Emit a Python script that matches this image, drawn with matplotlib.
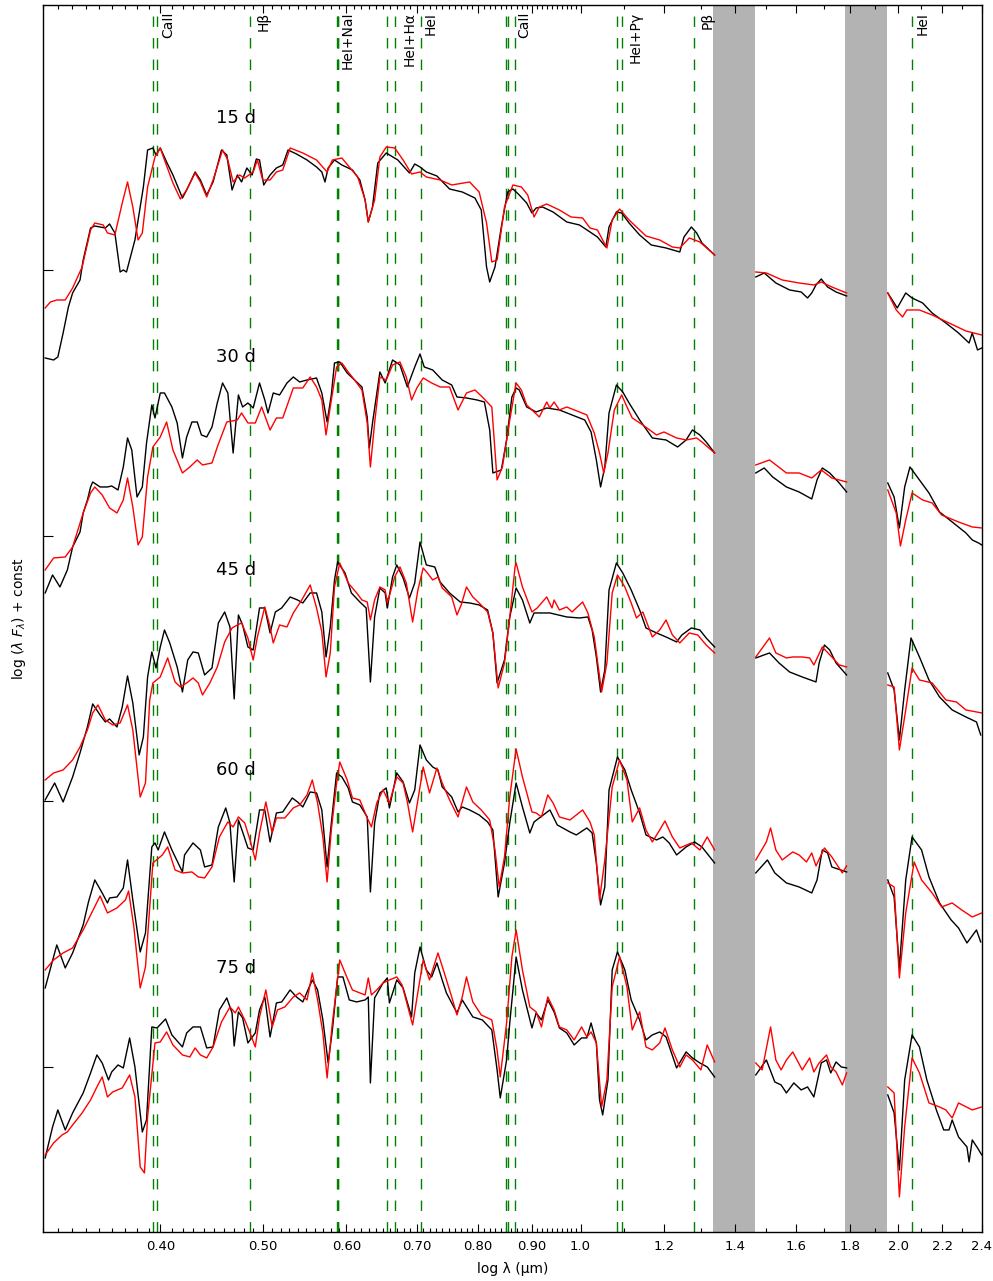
import numpy as np
import matplotlib
matplotlib.use("Agg")
import matplotlib.pyplot as plt
from matplotlib.ticker import FixedLocator, FixedFormatter, NullFormatter

# ---------------- data: log10(lambda / micron) and log(lambda F_lambda) + const ----------------
LOGLAM_15_OBS = [-0.507,-0.499,-0.495,-0.490,-0.485,-0.481,-0.474,-0.471,-0.464,-0.460,-0.450,-0.446,-0.441,-0.436,-0.433,-0.430,-0.422,-0.414,-0.410,-0.405,-0.402,-0.398,-0.392,-0.386,-0.377,-0.373,-0.365,-0.360,-0.354,-0.348,-0.340,-0.335,-0.330,-0.325,-0.321,-0.316,-0.311,-0.307,-0.304,-0.300,-0.294,-0.288,-0.282,-0.277,-0.269,-0.259,-0.250,-0.245,-0.242,-0.239,-0.233,-0.226,-0.216,-0.209,-0.204,-0.201,-0.197,-0.192,-0.184,-0.173,-0.162,-0.157,-0.152,-0.146,-0.136,-0.124,-0.112,-0.100,-0.094,-0.089,-0.086,-0.081,-0.075,-0.069,-0.064,-0.058,-0.051,-0.046,-0.042,-0.036,-0.026,-0.013,-0.001,0.009,0.016,0.024,0.027,0.034,0.039,0.046,0.056,0.067,0.081,0.094,0.098,0.105,0.110,0.115,0.127,0.166,0.174,0.185,0.198,0.209,0.215,0.219,0.223,0.228,0.234,0.242,0.252,0.291,0.300,0.308,0.314,0.324,0.333,0.346,0.358,0.368,0.371,0.376,0.380]
FLUX_15_OBS = [8.74,8.72,8.75,8.99,9.25,9.39,9.52,9.72,10.04,10.06,10.04,10.08,9.99,9.60,9.62,9.60,9.92,10.45,10.82,10.84,10.77,10.84,10.70,10.57,10.34,10.42,10.60,10.52,10.37,10.50,10.82,10.77,10.42,10.57,10.50,10.64,10.57,10.73,10.72,10.47,10.57,10.64,10.67,10.82,10.78,10.72,10.65,10.60,10.50,10.64,10.72,10.67,10.62,10.52,10.32,10.10,10.25,10.69,10.79,10.72,10.59,10.68,10.65,10.60,10.56,10.43,10.40,10.34,10.22,9.65,9.50,9.65,10.05,10.40,10.43,10.37,10.29,10.19,10.24,10.25,10.20,10.10,10.07,10.00,9.95,9.85,10.05,10.20,10.19,10.09,9.97,9.87,9.84,9.80,9.95,10.05,9.99,9.89,9.77,9.55,9.59,9.49,9.42,9.40,9.34,9.39,9.47,9.53,9.45,9.40,9.36,9.39,9.24,9.39,9.34,9.29,9.19,9.09,8.99,8.89,8.99,8.82,8.84]

LOGLAM_15_MOD = [-0.507,-0.502,-0.496,-0.488,-0.481,-0.472,-0.464,-0.460,-0.452,-0.448,-0.441,-0.434,-0.429,-0.424,-0.419,-0.415,-0.410,-0.403,-0.398,-0.394,-0.386,-0.379,-0.373,-0.365,-0.360,-0.354,-0.348,-0.339,-0.334,-0.329,-0.323,-0.318,-0.310,-0.306,-0.301,-0.294,-0.288,-0.282,-0.275,-0.263,-0.250,-0.240,-0.235,-0.226,-0.219,-0.211,-0.204,-0.201,-0.195,-0.190,-0.184,-0.176,-0.168,-0.160,-0.152,-0.146,-0.133,-0.122,-0.105,-0.096,-0.089,-0.084,-0.079,-0.072,-0.064,-0.056,-0.050,-0.044,-0.039,-0.032,-0.020,-0.009,0.002,0.009,0.016,0.025,0.030,0.037,0.046,0.062,0.075,0.087,0.094,0.103,0.113,0.127,0.166,0.176,0.191,0.207,0.221,0.228,0.238,0.252,0.291,0.299,0.305,0.309,0.321,0.333,0.349,0.365,0.380]
FLUX_15_MOD = [9.24,9.30,9.32,9.32,9.44,9.65,10.02,10.09,10.07,9.99,9.97,10.29,10.50,10.25,9.92,9.99,10.45,10.75,10.84,10.72,10.49,10.33,10.42,10.59,10.50,10.35,10.52,10.82,10.72,10.50,10.57,10.54,10.60,10.72,10.52,10.52,10.60,10.62,10.84,10.79,10.72,10.60,10.72,10.74,10.65,10.55,10.32,10.10,10.32,10.75,10.85,10.84,10.72,10.58,10.60,10.55,10.52,10.47,10.50,10.40,10.09,9.70,9.72,10.25,10.47,10.45,10.37,10.15,10.25,10.28,10.22,10.15,10.14,10.04,10.02,9.84,10.12,10.23,10.12,9.96,9.92,9.85,9.84,9.94,9.90,9.77,9.60,9.59,9.52,9.49,9.47,9.50,9.45,9.39,9.39,9.22,9.15,9.22,9.22,9.17,9.09,9.01,8.97]

LOGLAM_30_OBS = [-0.507,-0.500,-0.493,-0.486,-0.481,-0.474,-0.471,-0.467,-0.464,-0.462,-0.455,-0.448,-0.444,-0.438,-0.433,-0.429,-0.425,-0.420,-0.415,-0.411,-0.406,-0.403,-0.398,-0.394,-0.387,-0.382,-0.377,-0.373,-0.368,-0.363,-0.359,-0.354,-0.349,-0.344,-0.339,-0.334,-0.329,-0.324,-0.320,-0.315,-0.310,-0.304,-0.299,-0.296,-0.291,-0.285,-0.278,-0.272,-0.266,-0.259,-0.250,-0.245,-0.240,-0.236,-0.233,-0.228,-0.221,-0.216,-0.207,-0.202,-0.200,-0.197,-0.190,-0.185,-0.178,-0.171,-0.164,-0.157,-0.152,-0.148,-0.140,-0.131,-0.122,-0.117,-0.108,-0.098,-0.091,-0.086,-0.083,-0.075,-0.070,-0.065,-0.061,-0.058,-0.051,-0.042,-0.032,-0.020,-0.008,0.004,0.010,0.015,0.019,0.023,0.027,0.034,0.040,0.046,0.056,0.068,0.081,0.092,0.100,0.106,0.113,0.119,0.127,0.166,0.174,0.182,0.195,0.207,0.219,0.224,0.229,0.236,0.245,0.252,0.291,0.297,0.302,0.307,0.312,0.321,0.330,0.340,0.352,0.365,0.371,0.377,0.380]
FLUX_30_OBS = [6.39,6.57,6.45,6.62,6.85,7.00,7.19,7.32,7.45,7.50,7.45,7.45,7.46,7.42,7.65,7.94,7.82,7.35,7.45,7.89,8.27,8.14,8.39,8.39,8.25,8.09,7.74,7.95,8.10,8.10,7.97,7.95,8.05,8.29,8.49,8.39,7.79,8.37,8.25,8.29,8.24,8.49,8.32,8.19,8.39,8.37,8.49,8.55,8.50,8.52,8.54,8.39,8.10,8.37,8.69,8.70,8.59,8.54,8.45,8.15,7.84,8.09,8.60,8.49,8.72,8.67,8.45,8.65,8.78,8.65,8.62,8.52,8.47,8.35,8.34,8.32,8.30,8.02,7.59,7.62,7.92,8.35,8.44,8.42,8.25,8.20,8.24,8.22,8.17,8.12,8.00,7.72,7.45,7.65,8.19,8.47,8.40,8.29,8.12,7.94,7.92,7.85,7.92,8.02,7.97,7.90,7.79,7.59,7.64,7.55,7.45,7.40,7.33,7.52,7.64,7.59,7.49,7.40,7.49,7.35,7.04,7.45,7.65,7.52,7.39,7.20,7.10,6.99,6.92,6.89,6.87]

LOGLAM_30_MOD = [-0.507,-0.499,-0.488,-0.481,-0.471,-0.464,-0.460,-0.453,-0.446,-0.439,-0.433,-0.429,-0.424,-0.419,-0.415,-0.410,-0.405,-0.398,-0.392,-0.386,-0.377,-0.370,-0.363,-0.358,-0.349,-0.344,-0.335,-0.325,-0.321,-0.315,-0.308,-0.302,-0.294,-0.288,-0.282,-0.272,-0.263,-0.256,-0.250,-0.245,-0.241,-0.237,-0.231,-0.226,-0.220,-0.214,-0.207,-0.202,-0.199,-0.195,-0.190,-0.184,-0.178,-0.171,-0.165,-0.160,-0.155,-0.149,-0.141,-0.133,-0.124,-0.116,-0.108,-0.100,-0.093,-0.084,-0.079,-0.074,-0.067,-0.061,-0.056,-0.051,-0.039,-0.032,-0.029,-0.025,-0.020,-0.013,-0.001,0.006,0.013,0.018,0.022,0.026,0.032,0.039,0.044,0.049,0.059,0.072,0.079,0.091,0.100,0.110,0.115,0.127,0.166,0.179,0.195,0.207,0.219,0.228,0.238,0.252,0.291,0.299,0.303,0.308,0.314,0.324,0.333,0.342,0.358,0.371,0.380]
FLUX_30_MOD = [6.62,6.74,6.75,6.85,7.19,7.39,7.45,7.37,7.24,7.19,7.32,7.54,7.25,6.87,6.95,7.55,7.85,7.95,8.10,7.82,7.59,7.65,7.72,7.67,7.69,7.85,8.10,8.12,8.19,8.09,8.09,8.25,8.02,8.14,8.14,8.44,8.44,8.55,8.45,8.32,7.97,8.25,8.65,8.69,8.60,8.52,8.42,8.09,7.65,8.09,8.55,8.52,8.67,8.70,8.55,8.32,8.44,8.54,8.49,8.45,8.45,8.22,8.39,8.42,8.35,8.25,7.52,7.65,8.12,8.49,8.42,8.27,8.15,8.30,8.24,8.30,8.22,8.25,8.20,8.17,7.99,7.79,7.59,7.79,8.22,8.37,8.25,8.14,8.07,7.97,8.00,7.94,7.92,7.94,7.90,7.79,7.67,7.72,7.59,7.59,7.54,7.62,7.54,7.50,7.42,7.19,6.86,7.12,7.39,7.32,7.29,7.17,7.10,7.05,7.04]

LOGLAM_45_OBS = [-0.507,-0.498,-0.490,-0.481,-0.474,-0.467,-0.462,-0.455,-0.450,-0.446,-0.439,-0.434,-0.429,-0.424,-0.418,-0.414,-0.410,-0.406,-0.402,-0.398,-0.394,-0.389,-0.382,-0.377,-0.372,-0.367,-0.362,-0.356,-0.349,-0.343,-0.337,-0.332,-0.328,-0.324,-0.320,-0.315,-0.310,-0.304,-0.299,-0.294,-0.289,-0.283,-0.275,-0.268,-0.263,-0.256,-0.250,-0.245,-0.241,-0.237,-0.233,-0.230,-0.223,-0.217,-0.209,-0.203,-0.199,-0.195,-0.190,-0.185,-0.183,-0.178,-0.174,-0.168,-0.162,-0.157,-0.152,-0.146,-0.138,-0.133,-0.124,-0.114,-0.105,-0.096,-0.088,-0.083,-0.079,-0.072,-0.067,-0.061,-0.055,-0.048,-0.044,-0.029,-0.013,-0.001,0.007,0.011,0.015,0.019,0.023,0.027,0.034,0.040,0.048,0.056,0.062,0.072,0.081,0.091,0.096,0.105,0.113,0.119,0.127,0.166,0.179,0.188,0.198,0.210,0.223,0.226,0.231,0.236,0.242,0.252,0.291,0.297,0.302,0.307,0.313,0.321,0.330,0.340,0.352,0.365,0.375,0.379]
FLUX_45_OBS = [4.32,4.49,4.30,4.55,4.79,5.05,5.28,5.17,5.10,5.13,5.05,5.25,5.56,5.29,4.77,4.95,5.55,5.80,5.64,5.85,6.02,5.89,5.65,5.40,5.72,5.80,5.79,5.57,5.64,6.09,6.20,6.05,5.33,6.17,6.07,5.85,5.82,6.24,6.24,5.99,6.20,6.24,6.35,6.32,6.29,6.39,6.39,6.20,5.75,6.05,6.52,6.70,6.59,6.39,6.30,6.24,5.50,6.15,6.44,6.39,6.24,6.55,6.67,6.54,6.34,6.49,6.90,6.67,6.65,6.50,6.39,6.30,6.29,6.27,6.22,5.99,5.49,5.72,6.15,6.44,6.32,6.09,6.19,6.19,6.15,6.14,6.15,6.02,5.75,5.40,5.62,6.42,6.69,6.59,6.42,6.22,6.04,5.99,5.95,5.90,5.97,6.04,6.02,5.94,5.85,5.74,5.79,5.69,5.60,5.55,5.50,5.69,5.87,5.82,5.69,5.57,5.59,5.42,4.92,5.42,5.94,5.75,5.52,5.35,5.22,5.15,5.10,4.97]

LOGLAM_45_MOD = [-0.507,-0.499,-0.490,-0.481,-0.474,-0.467,-0.462,-0.457,-0.450,-0.443,-0.436,-0.429,-0.424,-0.417,-0.412,-0.408,-0.405,-0.398,-0.391,-0.384,-0.379,-0.373,-0.367,-0.362,-0.358,-0.351,-0.344,-0.337,-0.330,-0.325,-0.321,-0.315,-0.310,-0.306,-0.299,-0.294,-0.291,-0.285,-0.278,-0.272,-0.264,-0.256,-0.250,-0.245,-0.241,-0.237,-0.233,-0.228,-0.220,-0.212,-0.207,-0.202,-0.199,-0.195,-0.190,-0.185,-0.183,-0.176,-0.171,-0.165,-0.159,-0.154,-0.149,-0.145,-0.140,-0.135,-0.131,-0.122,-0.117,-0.113,-0.108,-0.102,-0.096,-0.088,-0.083,-0.078,-0.072,-0.067,-0.062,-0.061,-0.055,-0.046,-0.041,-0.032,-0.027,-0.025,-0.020,-0.013,-0.008,0.002,0.007,0.013,0.020,0.025,0.030,0.035,0.042,0.048,0.053,0.059,0.068,0.075,0.081,0.087,0.094,0.103,0.111,0.119,0.127,0.166,0.179,0.185,0.195,0.201,0.210,0.217,0.221,0.229,0.238,0.245,0.252,0.291,0.297,0.302,0.308,0.314,0.321,0.333,0.346,0.356,0.365,0.380]
FLUX_45_MOD = [4.52,4.59,4.62,4.72,4.85,5.02,5.19,5.27,5.12,5.07,5.09,5.27,5.02,4.35,4.49,5.32,5.49,5.55,5.74,5.50,5.45,5.49,5.54,5.49,5.37,5.49,5.65,5.90,6.04,6.07,6.09,5.94,5.72,5.95,6.25,6.05,5.89,6.07,6.05,6.19,6.32,6.47,6.24,6.00,5.55,5.79,6.45,6.69,6.49,6.39,6.32,6.30,6.12,6.32,6.45,6.42,6.29,6.55,6.65,6.49,6.10,6.42,6.64,6.59,6.52,6.55,6.44,6.35,6.17,6.27,6.45,6.35,6.29,6.20,5.99,5.44,5.69,6.15,6.65,6.69,6.45,6.20,6.24,6.35,6.24,6.32,6.22,6.25,6.20,6.30,6.19,5.95,5.40,5.69,6.39,6.57,6.45,6.29,6.14,6.20,5.95,6.02,6.12,5.97,5.89,5.99,5.97,5.87,5.79,5.75,5.94,5.79,5.74,5.75,5.75,5.74,5.67,5.85,5.75,5.67,5.65,5.47,5.45,4.82,5.22,5.64,5.52,5.49,5.32,5.30,5.22,5.19]

LOGLAM_60_OBS = [-0.507,-0.496,-0.488,-0.481,-0.471,-0.466,-0.460,-0.453,-0.448,-0.446,-0.439,-0.433,-0.429,-0.424,-0.417,-0.412,-0.406,-0.403,-0.400,-0.394,-0.387,-0.377,-0.375,-0.367,-0.360,-0.356,-0.349,-0.343,-0.336,-0.332,-0.328,-0.324,-0.320,-0.315,-0.310,-0.304,-0.299,-0.294,-0.288,-0.282,-0.273,-0.268,-0.263,-0.256,-0.250,-0.245,-0.240,-0.236,-0.231,-0.226,-0.220,-0.216,-0.209,-0.202,-0.199,-0.195,-0.190,-0.184,-0.181,-0.174,-0.168,-0.162,-0.157,-0.152,-0.146,-0.140,-0.135,-0.131,-0.122,-0.116,-0.112,-0.105,-0.096,-0.088,-0.083,-0.078,-0.072,-0.067,-0.061,-0.055,-0.048,-0.044,-0.029,-0.022,-0.010,-0.004,0.006,0.011,0.015,0.019,0.023,0.027,0.035,0.042,0.048,0.056,0.062,0.072,0.078,0.084,0.091,0.100,0.108,0.115,0.127,0.166,0.177,0.184,0.195,0.207,0.219,0.224,0.229,0.234,0.238,0.252,0.291,0.297,0.302,0.308,0.314,0.323,0.330,0.340,0.351,0.358,0.366,0.375,0.379]
FLUX_60_OBS = [2.44,2.87,2.64,2.79,3.07,3.30,3.52,3.39,3.29,3.34,3.35,3.44,3.72,3.32,2.80,2.99,3.85,3.89,3.82,4.00,3.82,3.60,3.77,3.89,3.82,3.65,3.67,4.05,4.24,4.09,3.50,4.12,4.00,3.84,3.82,4.22,4.22,3.90,4.19,4.20,4.34,4.30,4.25,4.40,4.39,4.22,3.65,4.09,4.59,4.55,4.44,4.30,4.27,4.15,3.40,4.09,4.39,4.44,4.24,4.59,4.50,4.29,4.42,4.87,4.72,4.65,4.62,4.45,4.35,4.20,4.25,4.22,4.17,4.10,4.02,3.35,3.69,4.09,4.49,4.25,3.99,4.10,4.22,4.07,4.00,3.97,4.04,3.99,3.69,3.27,3.45,4.42,4.75,4.62,4.42,4.19,3.97,3.92,3.95,3.89,3.77,3.85,3.90,3.85,3.69,3.59,3.72,3.59,3.49,3.45,3.39,3.52,3.82,3.79,3.65,3.60,3.52,3.35,2.64,3.52,3.95,3.82,3.55,3.29,3.12,3.04,2.89,3.02,2.90]

LOGLAM_60_MOD = [-0.507,-0.499,-0.490,-0.481,-0.471,-0.463,-0.455,-0.448,-0.439,-0.431,-0.428,-0.423,-0.417,-0.412,-0.405,-0.396,-0.391,-0.384,-0.377,-0.368,-0.362,-0.356,-0.349,-0.342,-0.334,-0.329,-0.324,-0.318,-0.313,-0.308,-0.304,-0.298,-0.292,-0.288,-0.280,-0.272,-0.266,-0.259,-0.254,-0.249,-0.244,-0.240,-0.236,-0.231,-0.228,-0.221,-0.216,-0.209,-0.202,-0.198,-0.193,-0.187,-0.181,-0.174,-0.168,-0.164,-0.159,-0.154,-0.149,-0.143,-0.136,-0.131,-0.124,-0.116,-0.108,-0.102,-0.094,-0.086,-0.081,-0.077,-0.072,-0.067,-0.061,-0.055,-0.046,-0.042,-0.037,-0.031,-0.026,-0.020,-0.010,0.002,0.009,0.013,0.018,0.023,0.030,0.037,0.044,0.049,0.056,0.062,0.068,0.075,0.080,0.087,0.094,0.105,0.113,0.120,0.127,0.166,0.176,0.180,0.185,0.191,0.201,0.207,0.214,0.219,0.223,0.231,0.238,0.248,0.252,0.291,0.297,0.302,0.308,0.316,0.323,0.333,0.342,0.352,0.361,0.371,0.380]
FLUX_60_MOD = [2.62,2.72,2.79,2.84,3.02,3.19,3.36,3.19,3.24,3.32,3.41,3.05,2.44,2.65,3.69,3.77,3.85,3.62,3.59,3.60,3.55,3.54,3.65,3.95,4.10,4.05,4.15,4.09,3.92,3.72,3.99,4.30,3.99,4.14,4.14,4.24,4.27,4.37,4.52,4.29,3.95,3.50,4.02,4.49,4.70,4.52,4.34,4.32,4.14,4.05,4.29,4.42,4.29,4.55,4.49,4.30,4.00,4.32,4.65,4.39,4.64,4.49,4.32,4.15,4.45,4.30,4.22,4.12,3.82,3.45,3.75,4.35,4.83,4.55,4.20,4.19,4.15,4.37,4.29,4.15,4.12,4.22,4.10,3.97,3.32,3.72,4.45,4.72,4.52,4.10,4.24,4.02,3.90,4.02,4.11,3.95,3.84,3.89,3.82,3.95,3.82,3.72,3.90,4.04,3.82,3.72,3.80,3.77,3.70,3.79,3.66,3.84,3.75,3.59,3.66,3.49,3.45,2.54,3.19,3.70,3.52,3.39,3.25,3.29,3.22,3.15,3.19]

LOGLAM_75_OBS = [-0.507,-0.500,-0.495,-0.488,-0.481,-0.471,-0.464,-0.458,-0.453,-0.447,-0.444,-0.438,-0.433,-0.427,-0.422,-0.415,-0.411,-0.406,-0.401,-0.393,-0.387,-0.377,-0.373,-0.367,-0.360,-0.354,-0.348,-0.342,-0.335,-0.330,-0.328,-0.324,-0.320,-0.315,-0.308,-0.304,-0.299,-0.294,-0.288,-0.283,-0.275,-0.269,-0.263,-0.254,-0.249,-0.244,-0.239,-0.235,-0.230,-0.225,-0.219,-0.212,-0.204,-0.201,-0.199,-0.195,-0.187,-0.183,-0.181,-0.174,-0.168,-0.160,-0.157,-0.152,-0.146,-0.141,-0.136,-0.131,-0.127,-0.117,-0.112,-0.102,-0.093,-0.084,-0.079,-0.076,-0.070,-0.067,-0.061,-0.055,-0.046,-0.042,-0.037,-0.031,-0.025,-0.020,-0.013,-0.006,0.001,0.006,0.010,0.015,0.018,0.021,0.026,0.030,0.035,0.042,0.048,0.056,0.062,0.068,0.075,0.081,0.091,0.100,0.106,0.113,0.120,0.127,0.166,0.176,0.184,0.190,0.195,0.202,0.209,0.215,0.221,0.228,0.233,0.237,0.242,0.247,0.252,0.291,0.297,0.302,0.307,0.314,0.321,0.328,0.337,0.344,0.349,0.352,0.358,0.366,0.368,0.371,0.376,0.380]
FLUX_75_OBS = [0.74,1.05,1.22,1.02,1.19,1.39,1.59,1.77,1.69,1.52,1.60,1.67,1.64,1.94,1.65,1.00,1.12,2.05,2.04,2.13,1.97,1.85,1.99,2.05,2.05,1.84,1.85,2.22,2.34,2.19,1.86,2.20,2.14,1.89,1.99,2.22,2.35,1.95,2.29,2.30,2.42,2.35,2.30,2.52,2.42,2.12,1.69,2.02,2.55,2.55,2.32,2.30,2.32,2.35,1.49,2.34,2.49,2.54,2.29,2.52,2.44,2.15,2.59,2.85,2.62,2.55,2.69,2.52,2.39,2.19,2.32,2.15,2.12,2.02,1.62,1.34,1.72,2.09,2.75,2.42,2.04,2.19,2.12,2.32,2.20,2.04,1.99,1.87,1.94,1.94,2.09,1.89,1.32,1.17,1.52,2.62,2.80,2.62,2.32,2.12,1.92,1.97,2.00,1.95,1.64,1.80,1.74,1.69,1.65,1.55,1.57,1.72,1.50,1.47,1.39,1.49,1.42,1.45,1.35,1.69,1.72,1.59,1.70,1.65,1.64,1.37,1.19,0.62,1.52,1.97,1.85,1.52,1.22,1.02,1.02,1.12,0.95,0.85,0.70,0.92,0.84,0.77]

LOGLAM_75_MOD = [-0.507,-0.499,-0.491,-0.486,-0.481,-0.472,-0.464,-0.458,-0.453,-0.448,-0.443,-0.434,-0.427,-0.422,-0.417,-0.413,-0.410,-0.403,-0.398,-0.392,-0.386,-0.377,-0.370,-0.365,-0.360,-0.354,-0.348,-0.340,-0.332,-0.327,-0.324,-0.318,-0.313,-0.308,-0.304,-0.298,-0.292,-0.287,-0.280,-0.272,-0.266,-0.259,-0.254,-0.249,-0.244,-0.240,-0.235,-0.228,-0.221,-0.216,-0.209,-0.204,-0.201,-0.198,-0.193,-0.187,-0.181,-0.174,-0.169,-0.164,-0.159,-0.154,-0.149,-0.143,-0.135,-0.129,-0.122,-0.117,-0.112,-0.108,-0.102,-0.094,-0.084,-0.079,-0.076,-0.070,-0.065,-0.061,-0.055,-0.048,-0.042,-0.037,-0.031,-0.025,-0.020,-0.013,-0.006,0.001,0.006,0.010,0.015,0.020,0.025,0.030,0.037,0.044,0.049,0.056,0.062,0.068,0.075,0.080,0.087,0.094,0.100,0.106,0.114,0.120,0.127,0.166,0.172,0.180,0.185,0.190,0.195,0.201,0.205,0.210,0.217,0.221,0.226,0.233,0.237,0.242,0.248,0.252,0.291,0.297,0.302,0.307,0.314,0.321,0.330,0.340,0.346,0.352,0.358,0.371,0.380]
FLUX_75_MOD = [0.77,0.89,0.97,1.00,1.07,1.19,1.32,1.45,1.55,1.35,1.40,1.44,1.57,1.35,0.65,0.59,1.15,1.89,1.90,2.00,1.87,1.77,1.75,1.84,1.77,1.74,1.85,2.10,2.25,2.19,2.25,2.12,1.99,1.85,2.15,2.42,2.05,2.22,2.25,2.35,2.39,2.32,2.59,2.32,1.99,1.54,2.09,2.72,2.54,2.42,2.39,2.37,2.54,2.37,2.42,2.49,2.52,2.55,2.47,2.27,2.07,2.40,2.72,2.52,2.79,2.59,2.35,2.17,2.35,2.55,2.30,2.17,2.12,1.82,1.55,2.09,2.75,3.02,2.62,2.25,2.20,2.05,2.35,2.22,2.05,2.02,1.92,2.05,1.95,2.00,1.89,1.25,1.52,2.45,2.75,2.45,2.02,2.20,1.85,1.82,1.89,2.04,1.82,1.65,1.77,1.72,1.62,1.87,1.70,1.69,1.62,2.05,1.72,1.62,1.72,1.80,1.72,1.62,1.74,1.60,1.69,1.77,1.65,1.60,1.47,1.59,1.45,1.39,0.35,1.05,1.74,1.59,1.29,1.25,1.22,1.14,1.29,1.22,1.25]

EPOCHS = ["15 d", "30 d", "45 d", "60 d", "75 d"]

# line identifications (micron)
LINE_WAVES = [0.3934, 0.3968, 0.4861, 0.5876, 0.5890, 0.5896, 0.6563, 0.6678, 0.7065,
              0.8498, 0.8542, 0.8662, 1.0830, 1.0938, 1.2818, 2.0581]
LINE_LABELS = ["CaII", "H\u03b2", "HeI+NaI", "HeI+H\u03b1", "HeI", "CaII", "HeI+P\u03b3", "P\u03b2", "HeI"]
LABEL_WAVES = [0.401, 0.493, 0.593, 0.679, 0.711, 0.871, 1.110, 1.300, 2.075]

# telluric bands (micron)
TELLURIC = [(1.336, 1.462), (1.782, 1.951)]

# axis ticks
XTICK_VALUES = [0.40, 0.50, 0.60, 0.70, 0.80, 0.90, 1.0, 1.2, 1.4, 1.6, 1.8, 2.0, 2.2, 2.4]
XTICK_LABELS = ["0.40", "0.50", "0.60", "0.70", "0.80", "0.90", "1.0", "1.2", "1.4", "1.6", "1.8", "2.0", "2.2", "2.4"]
YTICK_VALUES = [1.65, 4.31, 6.96, 9.62]

# ---------------- layout ----------------
X_RANGE_UM = (0.3097, 2.4)
Y_RANGE = (0.0, 12.27)
EPOCH_LABEL_X_UM = 0.4515
EPOCH_LABEL_Y = [11.14, 8.75, 6.62, 4.62, 2.64]

plt.rcParams["font.family"] = ["DejaVu Sans"]

fig = plt.figure(figsize=(9.93, 12.81), dpi=100)
ax = fig.add_axes([0.0433, 0.0383, 0.9456, 0.9578])


def with_gaps(x, y, maxstep=0.03):
    x = np.asarray(x, float)
    y = np.asarray(y, float)
    idx = np.where(np.diff(x) > maxstep)[0] + 1
    return np.insert(x, idx, np.nan), np.insert(y, idx, np.nan)


for lo, hi in TELLURIC:
    ax.axvspan(np.log10(lo), np.log10(hi), color="0.7", lw=0, zorder=1)

for w in LINE_WAVES:
    ax.axvline(np.log10(w), color="green", lw=1.0, ls=(0, (7.5, 8)), zorder=2)

series = [
    (LOGLAM_15_OBS, FLUX_15_OBS, LOGLAM_15_MOD, FLUX_15_MOD),
    (LOGLAM_30_OBS, FLUX_30_OBS, LOGLAM_30_MOD, FLUX_30_MOD),
    (LOGLAM_45_OBS, FLUX_45_OBS, LOGLAM_45_MOD, FLUX_45_MOD),
    (LOGLAM_60_OBS, FLUX_60_OBS, LOGLAM_60_MOD, FLUX_60_MOD),
    (LOGLAM_75_OBS, FLUX_75_OBS, LOGLAM_75_MOD, FLUX_75_MOD),
]
for xo, yo, xm, ym in series:
    ax.plot(*with_gaps(xo, yo), color="black", lw=1.0, zorder=3)
    ax.plot(*with_gaps(xm, ym), color="red", lw=1.0, zorder=4)

for lab, yl in zip(EPOCHS, EPOCH_LABEL_Y):
    ax.text(np.log10(EPOCH_LABEL_X_UM), yl, lab, fontsize=13, ha="left", va="center", zorder=5)

for lab, wl in zip(LINE_LABELS, LABEL_WAVES):
    ax.text(np.log10(wl), 0.9943, lab, transform=ax.get_xaxis_transform(), rotation=90,
            ha="left", va="top", fontsize=10, zorder=5)

ax.set_xlim(np.log10(X_RANGE_UM[0]), np.log10(X_RANGE_UM[1]))
ax.set_ylim(*Y_RANGE)

minor_vals = [v / 100 for v in range(31, 100)] + [v / 10 for v in range(11, 24, 2)]
ax.xaxis.set_major_locator(FixedLocator(np.log10(XTICK_VALUES)))
ax.xaxis.set_major_formatter(FixedFormatter(XTICK_LABELS))
ax.xaxis.set_minor_locator(FixedLocator(np.log10(minor_vals)))
ax.xaxis.set_minor_formatter(NullFormatter())
ax.set_yticks(YTICK_VALUES)
ax.set_yticklabels([])

ax.tick_params(axis="x", which="major", direction="in", length=6, width=0.8, top=True, labelsize=9.5, pad=6)
ax.tick_params(axis="x", which="minor", direction="in", length=3, width=0.8, top=True)
ax.tick_params(axis="y", which="major", direction="in", length=7, width=0.8, left=True, right=False)

for s in ax.spines.values():
    s.set_linewidth(1.0)

ax.set_xlabel("log \u03bb (\u00b5m)", fontsize=10, labelpad=6)
ax.set_ylabel(r"log ($\lambda$ $F_{\lambda}$) + const", fontsize=10, labelpad=7)

fig.savefig("out.png", dpi=100)
